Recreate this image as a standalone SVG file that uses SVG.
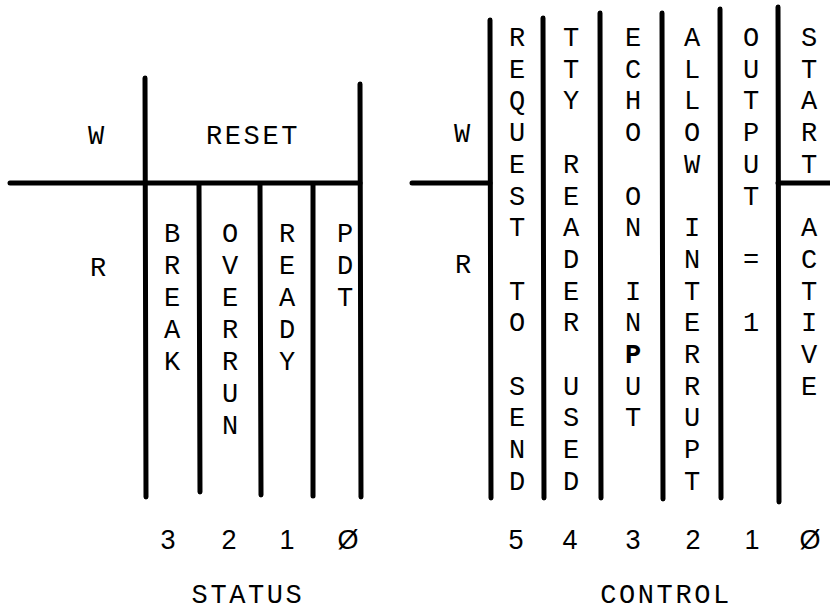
<svg xmlns="http://www.w3.org/2000/svg" width="830" height="613" viewBox="0 0 830 613">
<style>
.ln{stroke:#000;stroke-width:5;stroke-linecap:round;fill:none}
.t{font-family:"Liberation Mono","DejaVu Sans Mono",monospace;font-size:27px;fill:#000;text-anchor:middle}
.w{letter-spacing:2.6px}
.d{font-family:"Liberation Sans","DejaVu Sans",sans-serif;font-size:27px;fill:#000;text-anchor:middle}
.b{font-weight:bold}
</style>
<rect width="830" height="613" fill="#fff"/>
<g id="connectors">
<line class="ln" x1="10" y1="183" x2="360" y2="183"/>
<line class="ln" x1="145" y1="78" x2="146" y2="497"/>
<line class="ln" x1="199" y1="185" x2="200" y2="492"/>
<line class="ln" x1="260" y1="185" x2="261" y2="495"/>
<line class="ln" x1="313" y1="185" x2="313" y2="496"/>
<line class="ln" x1="360" y1="84" x2="361" y2="497"/>
<line class="ln" x1="412" y1="183" x2="490" y2="183"/>
<line class="ln" x1="778" y1="183" x2="830" y2="183"/>
<line class="ln" x1="490" y1="20" x2="491" y2="498"/>
<line class="ln" x1="543" y1="18" x2="544" y2="498"/>
<line class="ln" x1="600" y1="13" x2="601" y2="498"/>
<line class="ln" x1="662" y1="13" x2="663" y2="499"/>
<line class="ln" x1="720" y1="9" x2="721" y2="498"/>
<line class="ln" x1="778" y1="7" x2="779" y2="502"/>
</g>
<g id="status">
<text class="t" x="96" y="144">W</text>
<text class="t w" x="253" y="144">RESET</text>
<text class="t" x="98" y="276">R</text>
<g id="s-break"><text class="t"><tspan x="172" y="242">B</tspan><tspan x="172" y="274">R</tspan><tspan x="172" y="306">E</tspan><tspan x="172" y="338">A</tspan><tspan x="172" y="370">K</tspan></text></g>
<g id="s-overrun"><text class="t"><tspan x="230" y="242">O</tspan><tspan x="230" y="274">V</tspan><tspan x="230" y="306">E</tspan><tspan x="230" y="338">R</tspan><tspan x="230" y="370">R</tspan><tspan x="230" y="402">U</tspan><tspan x="230" y="434">N</tspan></text></g>
<g id="s-ready"><text class="t"><tspan x="287" y="242">R</tspan><tspan x="287" y="274">E</tspan><tspan x="287" y="306">A</tspan><tspan x="287" y="338">D</tspan><tspan x="287" y="370">Y</tspan></text></g>
<g id="s-pdt"><text class="t"><tspan x="345" y="242">P</tspan><tspan x="345" y="274">D</tspan><tspan x="345" y="306">T</tspan></text></g>
<g id="s-bits"><text class="d" x="168" y="549">3</text><text class="d" x="229" y="549">2</text><text class="d" x="287" y="549">1</text><text class="d" x="348" y="549">Ø</text></g>
<text class="t w" x="248" y="603">STATUS</text>
</g>
<g id="control">
<text class="t" x="462" y="142">W</text>
<text class="t" x="463" y="273">R</text>
<g id="c-rts"><text class="t"><tspan x="517" y="46">R</tspan><tspan x="517" y="78">E</tspan><tspan x="517" y="109">Q</tspan><tspan x="517" y="141">U</tspan><tspan x="517" y="173">E</tspan><tspan x="517" y="205">S</tspan><tspan x="517" y="236">T</tspan><tspan x="517" y="300">T</tspan><tspan x="517" y="331">O</tspan><tspan x="517" y="395">S</tspan><tspan x="517" y="426">E</tspan><tspan x="517" y="458">N</tspan><tspan x="517" y="490">D</tspan></text></g>
<g id="c-tty"><text class="t"><tspan x="571" y="46">T</tspan><tspan x="571" y="78">T</tspan><tspan x="571" y="109">Y</tspan><tspan x="571" y="173">R</tspan><tspan x="571" y="205">E</tspan><tspan x="571" y="236">A</tspan><tspan x="571" y="268">D</tspan><tspan x="571" y="300">E</tspan><tspan x="571" y="331">R</tspan><tspan x="571" y="395">U</tspan><tspan x="571" y="426">S</tspan><tspan x="571" y="458">E</tspan><tspan x="571" y="490">D</tspan></text></g>
<g id="c-echo"><text class="t"><tspan x="633" y="46">E</tspan><tspan x="633" y="78">C</tspan><tspan x="633" y="109">H</tspan><tspan x="633" y="141">O</tspan><tspan x="633" y="205">O</tspan><tspan x="633" y="236">N</tspan><tspan x="633" y="300">I</tspan><tspan x="633" y="331">N</tspan><tspan class="b" x="633" y="363">P</tspan><tspan x="633" y="395">U</tspan><tspan x="633" y="426">T</tspan></text></g>
<g id="c-allow"><text class="t"><tspan x="692" y="46">A</tspan><tspan x="692" y="78">L</tspan><tspan x="692" y="109">L</tspan><tspan x="692" y="141">O</tspan><tspan x="692" y="173">W</tspan><tspan x="692" y="236">I</tspan><tspan x="692" y="268">N</tspan><tspan x="692" y="300">T</tspan><tspan x="692" y="331">E</tspan><tspan x="692" y="363">R</tspan><tspan x="692" y="395">R</tspan><tspan x="692" y="426">U</tspan><tspan x="692" y="458">P</tspan><tspan x="692" y="490">T</tspan></text></g>
<g id="c-output"><text class="t"><tspan x="751" y="46">O</tspan><tspan x="751" y="78">U</tspan><tspan x="751" y="109">T</tspan><tspan x="751" y="141">P</tspan><tspan x="751" y="173">U</tspan><tspan x="751" y="205">T</tspan><tspan x="751" y="268">=</tspan><tspan x="751" y="331">1</tspan></text></g>
<g id="c-start"><text class="t"><tspan x="809" y="46">S</tspan><tspan x="809" y="78">T</tspan><tspan x="809" y="109">A</tspan><tspan x="809" y="141">R</tspan><tspan x="809" y="173">T</tspan><tspan x="809" y="236">A</tspan><tspan x="809" y="268">C</tspan><tspan x="809" y="300">T</tspan><tspan x="809" y="331">I</tspan><tspan x="809" y="363">V</tspan><tspan x="809" y="395">E</tspan></text></g>
<g id="c-bits"><text class="d" x="516" y="549">5</text><text class="d" x="570" y="549">4</text><text class="d" x="633" y="549">3</text><text class="d" x="693" y="549">2</text><text class="d" x="752" y="549">1</text><text class="d" x="810" y="549">Ø</text></g>
<text class="t w" x="666" y="603">CONTROL</text>
</g>
</svg>
